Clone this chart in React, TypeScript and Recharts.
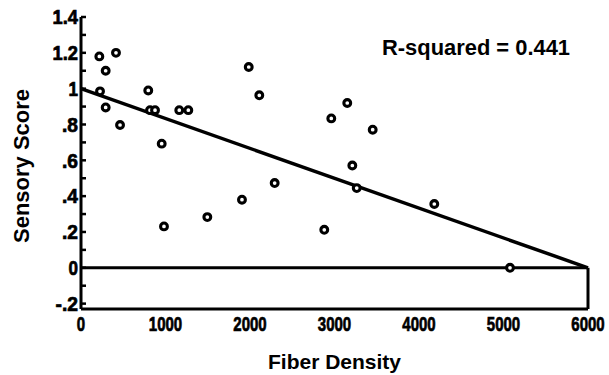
import React from 'react';
import { ScatterChart, Scatter, XAxis, YAxis, ReferenceLine } from 'recharts';

// Data
const fiberDensity = [217, 414, 292, 225, 292, 462, 796, 817, 876, 1163, 1270, 955, 982, 1495, 1985, 2110, 1905, 2292, 2879, 2962, 3151, 3452, 3211, 3263, 4181, 5077];
const sensoryScore = [1.18, 1.2, 1.1, 0.985, 0.895, 0.797, 0.99, 0.88, 0.88, 0.88, 0.88, 0.693, 0.231, 0.283, 1.121, 0.963, 0.38, 0.473, 0.212, 0.834, 0.92, 0.771, 0.571, 0.445, 0.356, 0];

// Regression line end points
const regressionX = [0, 6000];
const regressionY = [1.0, 0];

const xTicks = [0, 1000, 2000, 3000, 4000, 5000, 6000];
const yMajorTicks = [-0.2, 0, 0.2, 0.4, 0.6, 0.8, 1.0, 1.2, 1.4];
const yTickLabels = ['-.2', '0', '.2', '.4', '.6', '.8', '1', '1.2', '1.4'];
const yMinorTicks = [-0.1, 0.1, 0.3, 0.5, 0.7, 0.9, 1.1, 1.3];
const yAllTicks = [...yMajorTicks, ...yMinorTicks].sort((a, b) => a - b);

const rSquaredText = 'R-squared = 0.441';
const xTitle = 'Fiber Density';
const yTitle = 'Sensory Score';

const points = fiberDensity.map((x, i) => ({ x, y: sensoryScore[i] }));

const TICK_FONT = "'Liberation Sans', Arial, Helvetica, sans-serif";
const TITLE_FONT = "'Liberation Sans', Arial, Helvetica, sans-serif";
const Y_TICK_MARGIN = 3;

// condensed width of a tick label
const labelWidth = (s: string, digit: number, punct: number) =>
  s.split('').reduce((w, c) => w + (c === '.' || c === '-' ? punct : digit), 0);

const YTick = (props: any) => {
  const { x, y, payload } = props;
  const idx = yMajorTicks.findIndex((t) => Math.abs(t - payload.value) < 1e-6);
  const axisX = x + Y_TICK_MARGIN;
  const lbl = idx >= 0 ? yTickLabels[idx] : '';
  return (
    <g>
      <line x1={axisX} x2={axisX + 5} y1={y} y2={y} stroke="#000" strokeWidth={2.5} />
      {idx >= 0 && (
        <text
          x={x}
          y={y}
          dy="0.36em"
          textAnchor="end"
          fill="#000"
          stroke="#000"
          strokeWidth={0.7}
          fontSize={20}
          fontWeight="bold"
          fontFamily={TICK_FONT}
          textLength={labelWidth(lbl, 9.5, 6.5)}
          lengthAdjust="spacingAndGlyphs"
        >
          {lbl}
        </text>
      )}
    </g>
  );
};

// x tick labels are horizontally condensed (digit 8.3px wide vs 11.1px natural)
const X_TICK_SCALE = 0.75;

const XTick = (props: any) => {
  const { x, y, payload } = props;
  const lbl = String(payload.value);
  return (
    <g transform={`translate(${x},${y}) scale(${X_TICK_SCALE},1)`}>
      <text
        x={0}
        y={0}
        dy="0.71em"
        textAnchor="middle"
        fill="#000"
        stroke="#000"
        strokeWidth={0.7}
        fontSize={20}
        fontWeight="bold"
        fontFamily={TICK_FONT}
      >
        {lbl}
      </text>
    </g>
  );
};

const Ring = (props: any) => (
  <circle cx={props.cx} cy={props.cy} r={3.4} fill="#fff" stroke="#000" strokeWidth={3.1} />
);

const YTitle = (props: any) => {
  const vb = props.viewBox || { x: 0, y: 0, width: 0, height: 0 };
  const cx = vb.x + 22;
  const cy = vb.y + vb.height / 2 + 3;
  return (
    <text
      x={cx}
      y={cy}
      transform={`rotate(-90 ${cx} ${cy})`}
      textAnchor="middle"
      dominantBaseline="central"
      fill="#000"
      fontSize={21.5}
      fontWeight="bold"
      fontFamily={TITLE_FONT}
      textLength={154}
      lengthAdjust="spacingAndGlyphs"
    >
      {yTitle}
    </text>
  );
};

const XTitle = (props: any) => {
  const vb = props.viewBox || { x: 0, y: 0, width: 0, height: 0 };
  const cx = vb.x + vb.width / 2;
  const cy = vb.y + 52;
  return (
    <text
      x={cx}
      y={cy}
      textAnchor="middle"
      dominantBaseline="central"
      fill="#000"
      fontSize={21}
      fontWeight="bold"
      fontFamily={TITLE_FONT}
    >
      {xTitle}
    </text>
  );
};

export default function App() {
  return (
    <div style={{ position: 'absolute', left: 0, top: 0, width: 609, height: 375, background: '#fff' }}>
      <ScatterChart width={609} height={375} margin={{ top: 17, right: 21, bottom: 0, left: 0 }}>
        <XAxis
          type="number"
          dataKey="x"
          domain={[0, 6000]}
          ticks={xTicks}
          interval={0}
          allowDataOverflow
          tickLine={false}
          tickSize={0}
          tickMargin={8}
          height={66}
          axisLine={{ stroke: '#000', strokeWidth: 3 }}
          tick={<XTick />}
          label={<XTitle />}
        />
        <YAxis
          type="number"
          dataKey="y"
          domain={[-0.23, 1.4]}
          ticks={yAllTicks}
          interval={0}
          allowDataOverflow
          tickLine={false}
          tickSize={0}
          tickMargin={Y_TICK_MARGIN}
          width={81}
          axisLine={{ stroke: '#000', strokeWidth: 3 }}
          tick={<YTick />}
          label={<YTitle />}
        />
        <ReferenceLine y={0} stroke="#000" strokeWidth={3} />
        <ReferenceLine
          segment={[{ x: regressionX[1], y: 0 }, { x: regressionX[1], y: -0.23 }]}
          stroke="#000"
          strokeWidth={3}
        />
        <Scatter data={points} shape={<Ring />} isAnimationActive={false} />
        <ReferenceLine
          segment={[{ x: regressionX[0], y: regressionY[0] }, { x: regressionX[1], y: regressionY[1] }]}
          stroke="#000"
          strokeWidth={3.5}
        />
        <text
          x={476}
          y={47}
          textAnchor="middle"
          dominantBaseline="central"
          fill="#000"
          fontSize={22}
          fontWeight="bold"
          fontFamily={TITLE_FONT}
          textLength={188}
          lengthAdjust="spacingAndGlyphs"
        >
          {rSquaredText}
        </text>
      </ScatterChart>
    </div>
  );
}
